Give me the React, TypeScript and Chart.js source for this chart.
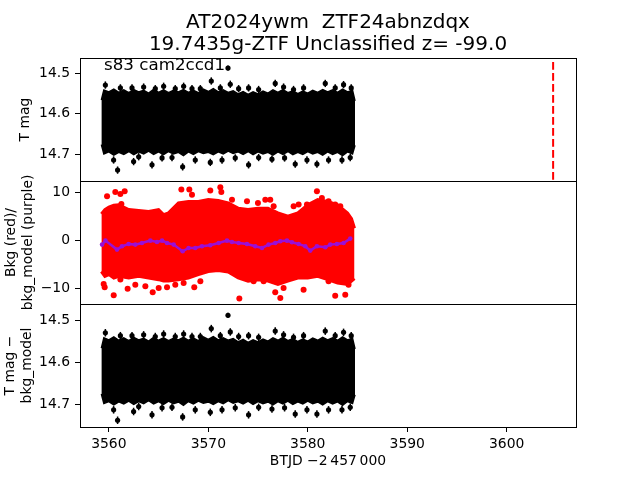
import React, { useEffect, useRef } from "react";
import { Chart, registerables } from "chart.js";

Chart.register(...registerables);

// ---------------- text ----------------
const TITLE_LINES = ["AT2024ywm  ZTF24abnzdqx", "19.7435g-ZTF Unclassified z= -99.0"];
const SECTOR_TEXT = "s83 cam2ccd1";
const X_LABEL = "BTJD \u22122\u2009457\u2009000";
const Y1_LABEL = "T mag";
const Y2_LABEL = ["Bkg (red)/", "bkg_model (purple)"];
const Y3_LABEL = ["T mag \u2212", "bkg_model"];

// ---------------- ticks ----------------
const X_TICKS = [3560, 3570, 3580, 3590, 3600];
const MAG_TICKS = [14.5, 14.6, 14.7];
const BKG_TICKS = [10, 0, -10];

// ---------------- light curve (dense band envelope) ----------------
const BAND_T = [
  3559.25, 3559.5, 3560.0, 3560.5, 3561.0, 3561.5, 3562.0, 3562.5, 3563.0, 3563.5,
  3564.0, 3564.5, 3565.0, 3565.5, 3566.0, 3566.5, 3567.0, 3567.5, 3568.0, 3568.5,
  3569.0, 3569.5, 3570.0, 3570.5, 3571.0, 3571.5, 3572.0, 3572.5, 3573.0, 3573.5,
  3574.0, 3574.5, 3575.0, 3575.5, 3576.0, 3576.5, 3577.0, 3577.5, 3578.0, 3578.5,
  3579.0, 3579.5, 3580.0, 3580.5, 3581.0, 3581.5, 3582.0, 3582.5, 3583.0, 3583.5,
  3584.0, 3584.5, 3584.75,
];
const BAND_BRIGHT = [
  14.566, 14.541, 14.546, 14.539, 14.547, 14.541, 14.548, 14.54, 14.546, 14.542,
  14.549, 14.54, 14.547, 14.541, 14.548, 14.542, 14.546, 14.54, 14.547, 14.542,
  14.548, 14.539, 14.545, 14.538, 14.546, 14.541, 14.547, 14.543, 14.551, 14.545,
  14.552, 14.546, 14.551, 14.544, 14.549, 14.541, 14.547, 14.54, 14.548, 14.543,
  14.55, 14.544, 14.549, 14.542, 14.547, 14.54, 14.546, 14.541, 14.547, 14.539,
  14.546, 14.542, 14.568,
];
const BAND_FAINT = [
  14.676, 14.699, 14.694, 14.702, 14.695, 14.7, 14.693, 14.701, 14.694, 14.699,
  14.692, 14.7, 14.694, 14.701, 14.693, 14.699, 14.695, 14.703, 14.694, 14.7,
  14.693, 14.698, 14.695, 14.701, 14.694, 14.699, 14.692, 14.698, 14.694, 14.7,
  14.693, 14.701, 14.694, 14.699, 14.695, 14.702, 14.694, 14.7, 14.693, 14.701,
  14.695, 14.7, 14.693, 14.699, 14.695, 14.702, 14.694, 14.7, 14.695, 14.703,
  14.694, 14.699, 14.678,
];
// individual points sticking out of the band (with error bars)
const SPIKE_T = [
  3559.65, 3561.16, 3562.33, 3563.5, 3564.67, 3565.51, 3566.68, 3567.52, 3568.36, 3569.2,
  3570.3, 3571.21, 3571.98, 3572.21, 3573.05, 3574.05, 3575.06, 3576.73, 3577.57, 3578.57,
  3579.58, 3581.76, 3582.76, 3583.6, 3584.37,
  3560.48, 3560.88, 3562.49, 3563.0, 3564.34, 3565.35, 3566.35, 3567.42, 3568.69, 3570.2,
  3571.38, 3572.71, 3574.05, 3575.06, 3576.4, 3577.67, 3578.74, 3579.92, 3580.92, 3582.09,
  3583.44, 3584.27,
];
const SPIKE_MAG = [
  14.529, 14.536, 14.536, 14.534, 14.538, 14.532, 14.538, 14.532, 14.538, 14.538,
  14.519, 14.536, 14.487, 14.527, 14.538, 14.536, 14.54, 14.525, 14.534, 14.54,
  14.536, 14.525, 14.536, 14.528, 14.536,
  14.714, 14.739, 14.718, 14.706, 14.726, 14.709, 14.708, 14.731, 14.714, 14.72,
  14.714, 14.709, 14.726, 14.708, 14.712, 14.709, 14.724, 14.714, 14.724, 14.714,
  14.714, 14.708,
];
const SPIKE_ERR = [
  0.009, 0.009, 0.009, 0.009, 0.009, 0.009, 0.009, 0.009, 0.009, 0.009,
  0.009, 0.009, 0.006, 0.009, 0.009, 0.009, 0.009, 0.009, 0.009, 0.009,
  0.009, 0.009, 0.009, 0.009, 0.009,
  0.009, 0.009, 0.009, 0.009, 0.009, 0.009, 0.009, 0.009, 0.009, 0.009,
  0.009, 0.009, 0.009, 0.009, 0.009, 0.009, 0.009, 0.009, 0.009, 0.009,
  0.009, 0.009,
];
const ALERT_T = 3604.67;
const ALERT_MAG = [14.472, 14.77];

// ---------------- background ----------------
const BKG_T = [
  3559.25, 3559.6, 3560, 3560.5, 3561, 3562, 3563, 3564, 3565, 3565.5, 3566, 3567, 3568,
  3569, 3570, 3571, 3572, 3573, 3574, 3575, 3576, 3577, 3578, 3579, 3580, 3581, 3582,
  3583, 3584, 3584.4, 3584.7,
];
const BKG_HIGH = [
  5.5, 6.4, 6.9, 7.3, 7.4, 6.4, 6.2, 6.0, 6.4, 5.35, 5.7, 7.8, 8.1, 8.1, 8.5, 8.3, 7.8,
  6.7, 6.4, 6.7, 6.7, 5.7, 5.0, 5.7, 7.4, 8.5, 8.1, 7.4, 5.7, 4.5, 2.5,
];
const BKG_LOW = [
  -6.5, -7.5, -7.15, -7.85, -7.5, -7.85, -7.5, -7.85, -8.2, -8.5, -8.5, -8.2, -7.85,
  -7.15, -6.5, -6.3, -6.6, -7.85, -8.5, -8.2, -8.5, -9.2, -8.5, -7.85, -7.85, -7.5,
  -8.2, -8.9, -9.2, -8.5, -8.0,
];
const BKG_OUT_T = [
  3559.82, 3560.65, 3561.16, 3561.59, 3561.26, 3567.29, 3568.09, 3568.36, 3570.2, 3571.21,
  3571.31, 3572.38, 3573.89, 3574.99, 3575.73, 3576.23, 3576.57, 3578.58, 3579.08, 3579.92,
  3580.92, 3581.42, 3582.09, 3582.76, 3583.27,
  3559.48, 3559.58, 3560.49, 3561.16, 3561.89, 3562.66, 3563.67, 3564.41, 3565.01, 3565.85,
  3566.68, 3567.52, 3568.59, 3569.2, 3573.12, 3574.56, 3575.56, 3576.73, 3577.24, 3577.57,
  3579.58, 3582.09, 3582.76, 3583.77, 3584.1,
];
const BKG_OUT_V = [
  9.17, 10.07, 9.65, 10.2, 7.57, 10.56, 10.56, 9.51, 10.35, 11.04,
  10.07, 8.47, 8.13, 7.78, 8.47, 8.47, 7.08, 7.08, 7.43, 7.43,
  10.2, 8.82, 8.13, 7.43, 7.08,
  -9.1, -9.79, -11.46, -8.19, -10.07, -9.24, -9.58, -10.83, -9.93, -9.79,
  -9.24, -8.89, -9.79, -8.54, -12.15, -8.54, -8.54, -10.83, -12.01, -9.93,
  -10.28, -8.54, -11.53, -11.32, -9.24,
];
const MODEL_T = [
  3559.32, 3559.66, 3560.82, 3561.32, 3561.99, 3562.66, 3563.33, 3564.17, 3564.84, 3565.35,
  3565.85, 3566.52, 3567.42, 3568.02, 3568.69, 3569.36, 3570.2, 3571.04, 3571.88, 3572.38,
  3573.05, 3573.89, 3574.72, 3575.4, 3576.06, 3576.73, 3577.24, 3577.91, 3578.41, 3579.08,
  3579.75, 3580.25, 3580.92, 3581.76, 3582.26, 3582.93, 3583.6, 3584.27,
];
const MODEL_V = [
  -0.9, -0.07, -1.94, -1.25, -0.76, -0.9, -0.56, -0.07, -0.35, -0.07,
  -0.56, -0.9, -2.29, -1.6, -1.6, -1.25, -1.04, -0.56, -0.07, -0.35,
  -0.56, -0.76, -1.25, -1.6, -0.9, -0.56, -0.21, -0.07, -0.42, -0.76,
  -1.25, -2.15, -1.25, -1.46, -0.9, -0.76, -0.56, 0.35,
];

// ---------------- axis limits ----------------
const X_MIN = 3557.1;
const X_MAX = 3606.97;
const Y1_RANGE = [14.4622, 14.7659];
const Y2_RANGE = [-13.27, 12.35];
const Y3_RANGE = [14.4599, 14.7552];

// ---------------- helpers ----------------
const FONT = '"DejaVu Sans", "Liberation Sans", sans-serif';
const FS = 13.9;

const zip = (xs: number[], ys: number[]) => xs.map((x, i) => ({ x, y: ys[i] }));

const framePlugin = {
  id: "frame",
  afterDraw(chart: any) {
    const { ctx, chartArea: a } = chart;
    ctx.save();
    ctx.strokeStyle = "#000";
    ctx.lineWidth = 1;
    ctx.strokeRect(Math.round(a.left) + 0.5, Math.round(a.top) + 0.5, Math.round(a.right - a.left), Math.round(a.bottom - a.top));
    ctx.restore();
  },
};

const errorBarPlugin = {
  id: "errbars",
  afterDatasetsDraw(chart: any) {
    const { ctx, chartArea: a, scales } = chart;
    ctx.save();
    ctx.beginPath();
    ctx.rect(a.left, a.top, a.right - a.left, a.bottom - a.top);
    ctx.clip();
    chart.data.datasets.forEach((ds: any) => {
      if (!ds.errors) return;
      ctx.strokeStyle = ds.pointBackgroundColor;
      ctx.lineWidth = 1.5;
      ds.data.forEach((p: any, i: number) => {
        const x = scales.x.getPixelForValue(p.x);
        const y1 = scales.y.getPixelForValue(p.y - ds.errors[i]);
        const y2 = scales.y.getPixelForValue(p.y + ds.errors[i]);
        ctx.beginPath();
        ctx.moveTo(x, y1);
        ctx.lineTo(x, y2);
        ctx.stroke();
      });
    });
    ctx.restore();
  },
};

type TextItem = { text: string; x: number; y: number; size: number; align: CanvasTextAlign };
const makeTextPlugin = (items: TextItem[]) => ({
  id: "texts",
  afterDraw(chart: any) {
    const ctx = chart.ctx;
    ctx.save();
    ctx.fillStyle = "#000";
    ctx.textBaseline = "alphabetic";
    for (const it of items) {
      ctx.font = `${it.size}px ${FONT}`;
      ctx.textAlign = it.align;
      ctx.fillText(it.text, it.x, it.y);
    }
    ctx.restore();
  },
});

const fmtMag = (v: any) => Number(v).toFixed(1);
const fmtBkg = (v: any) => (Number(v) < 0 ? "\u2212" + Math.abs(Number(v)) : String(v));

function yAxis(range: number[], reverse: boolean, ticks: number[], label: any, titlePad: number, fmt: any) {
  return {
    type: "linear",
    min: range[0],
    max: range[1],
    reverse,
    afterFit: (s: any) => {
      s.width = 80;
    },
    afterBuildTicks: (s: any) => {
      s.ticks = ticks.map((v) => ({ value: v }));
    },
    ticks: { color: "#000", font: { family: FONT, size: FS }, padding: 5, callback: fmt },
    grid: { drawOnChartArea: false, drawTicks: true, tickLength: 5, color: "#000", lineWidth: 1 },
    border: { display: false },
    title: {
      display: true,
      text: label,
      color: "#000",
      font: { family: FONT, size: FS, lineHeight: 1.2 },
      padding: { top: titlePad, bottom: 0 },
    },
  };
}

function xAxis(show: boolean) {
  return {
    type: "linear",
    min: X_MIN,
    max: X_MAX,
    display: show,
    afterFit: (s: any) => {
      s.height = show ? 53 : 0;
    },
    afterBuildTicks: (s: any) => {
      s.ticks = X_TICKS.map((v) => ({ value: v }));
    },
    ticks: { color: "#000", font: { family: FONT, size: FS }, padding: 4, maxRotation: 0, callback: (v: any) => String(v) },
    grid: { drawOnChartArea: false, drawTicks: true, tickLength: 5, color: "#000", lineWidth: 1 },
    border: { display: false },
    title: {
      display: show,
      text: X_LABEL,
      color: "#000",
      font: { family: FONT, size: FS, lineHeight: 1.2 },
      padding: { top: 0, bottom: 10.5 },
    },
  };
}

function lightCurveDatasets() {
  return [
    {
      data: zip(BAND_T, BAND_BRIGHT),
      borderColor: "#000",
      backgroundColor: "#000",
      borderWidth: 1.5,
      pointRadius: 0,
      fill: "+1",
      tension: 0,
      order: 2,
    },
    {
      data: zip(BAND_T, BAND_FAINT),
      borderColor: "#000",
      backgroundColor: "#000",
      borderWidth: 1.5,
      pointRadius: 0,
      fill: false,
      tension: 0,
      order: 2,
    },
    {
      data: zip(SPIKE_T, SPIKE_MAG),
      showLine: false,
      pointRadius: 2.6,
      pointBackgroundColor: "#000",
      pointBorderWidth: 0,
      errors: SPIKE_ERR,
      order: 1,
    },
  ];
}

function baseOptions(padTop: number, padBottom: number, x: any, y: any) {
  return {
    responsive: false,
    maintainAspectRatio: false,
    animation: false,
    devicePixelRatio: 1,
    events: [],
    layout: { padding: { left: 0, right: 64, top: padTop, bottom: padBottom } },
    plugins: { legend: { display: false }, tooltip: { enabled: false }, title: { display: false } },
    scales: { x, y },
  };
}

export default function App() {
  const c1 = useRef<HTMLCanvasElement>(null);
  const c2 = useRef<HTMLCanvasElement>(null);
  const c3 = useRef<HTMLCanvasElement>(null);

  useEffect(() => {
    const charts: Chart[] = [];

    // Panel 1: light curve
    charts.push(
      new Chart(c1.current as HTMLCanvasElement, {
        type: "line",
        data: {
          datasets: [
            ...lightCurveDatasets(),
            {
              data: [
                { x: ALERT_T, y: ALERT_MAG[0] },
                { x: ALERT_T, y: ALERT_MAG[1] },
              ],
              borderColor: "#ff0000",
              borderWidth: 2,
              borderDash: [7.7, 3.3],
              pointRadius: 0,
              fill: false,
              order: 0,
            },
          ] as any,
        },
        options: baseOptions(58, 299, xAxis(false), yAxis(Y1_RANGE, true, MAG_TICKS, Y1_LABEL, 17.2, fmtMag)) as any,
        plugins: [
          errorBarPlugin,
          framePlugin,
          makeTextPlugin([
            { text: TITLE_LINES[0], x: 328, y: 27.5, size: 20, align: "center" },
            { text: TITLE_LINES[1], x: 328, y: 50, size: 20, align: "center" },
            { text: SECTOR_TEXT, x: 104, y: 70, size: 16.7, align: "left" },
          ]),
        ],
      })
    );

    // Panel 2: background
    charts.push(
      new Chart(c2.current as HTMLCanvasElement, {
        type: "line",
        data: {
          datasets: [
            {
              data: zip(BKG_T, BKG_HIGH),
              borderColor: "#ff0000",
              backgroundColor: "#ff0000",
              borderWidth: 3,
              pointRadius: 0,
              fill: "+1",
              tension: 0,
              order: 3,
            },
            {
              data: zip(BKG_T, BKG_LOW),
              borderColor: "#ff0000",
              backgroundColor: "#ff0000",
              borderWidth: 3,
              pointRadius: 0,
              fill: false,
              tension: 0,
              order: 3,
            },
            {
              data: zip(BKG_OUT_T, BKG_OUT_V),
              showLine: false,
              pointRadius: 3,
              pointBackgroundColor: "#ff0000",
              pointBorderWidth: 0,
              order: 2,
            },
            {
              data: zip(MODEL_T, MODEL_V),
              borderColor: "#9a10d6",
              backgroundColor: "#9a10d6",
              borderWidth: 2.5,
              pointRadius: 2.3,
              pointBackgroundColor: "#9a10d6",
              pointBorderWidth: 0,
              fill: false,
              tension: 0,
              order: 0,
            },
          ] as any,
        },
        options: baseOptions(181, 176, xAxis(false), yAxis(Y2_RANGE, false, BKG_TICKS, Y2_LABEL, 3, fmtBkg)) as any,
        plugins: [framePlugin],
      })
    );

    // Panel 3: light curve minus background model
    charts.push(
      new Chart(c3.current as HTMLCanvasElement, {
        type: "line",
        data: { datasets: lightCurveDatasets() as any },
        options: baseOptions(304, 0, xAxis(true), yAxis(Y3_RANGE, true, MAG_TICKS, Y3_LABEL, 2, fmtMag)) as any,
        plugins: [errorBarPlugin, framePlugin],
      })
    );

    return () => charts.forEach((c) => c.destroy());
  }, []);

  const cs: React.CSSProperties = { position: "absolute", left: 0, top: 0 };
  return (
    <div style={{ position: "fixed", left: 0, top: 0, width: 640, height: 480, background: "#fff" }}>
      <canvas ref={c1} width={640} height={480} style={cs} />
      <canvas ref={c2} width={640} height={480} style={cs} />
      <canvas ref={c3} width={640} height={480} style={cs} />
    </div>
  );
}
